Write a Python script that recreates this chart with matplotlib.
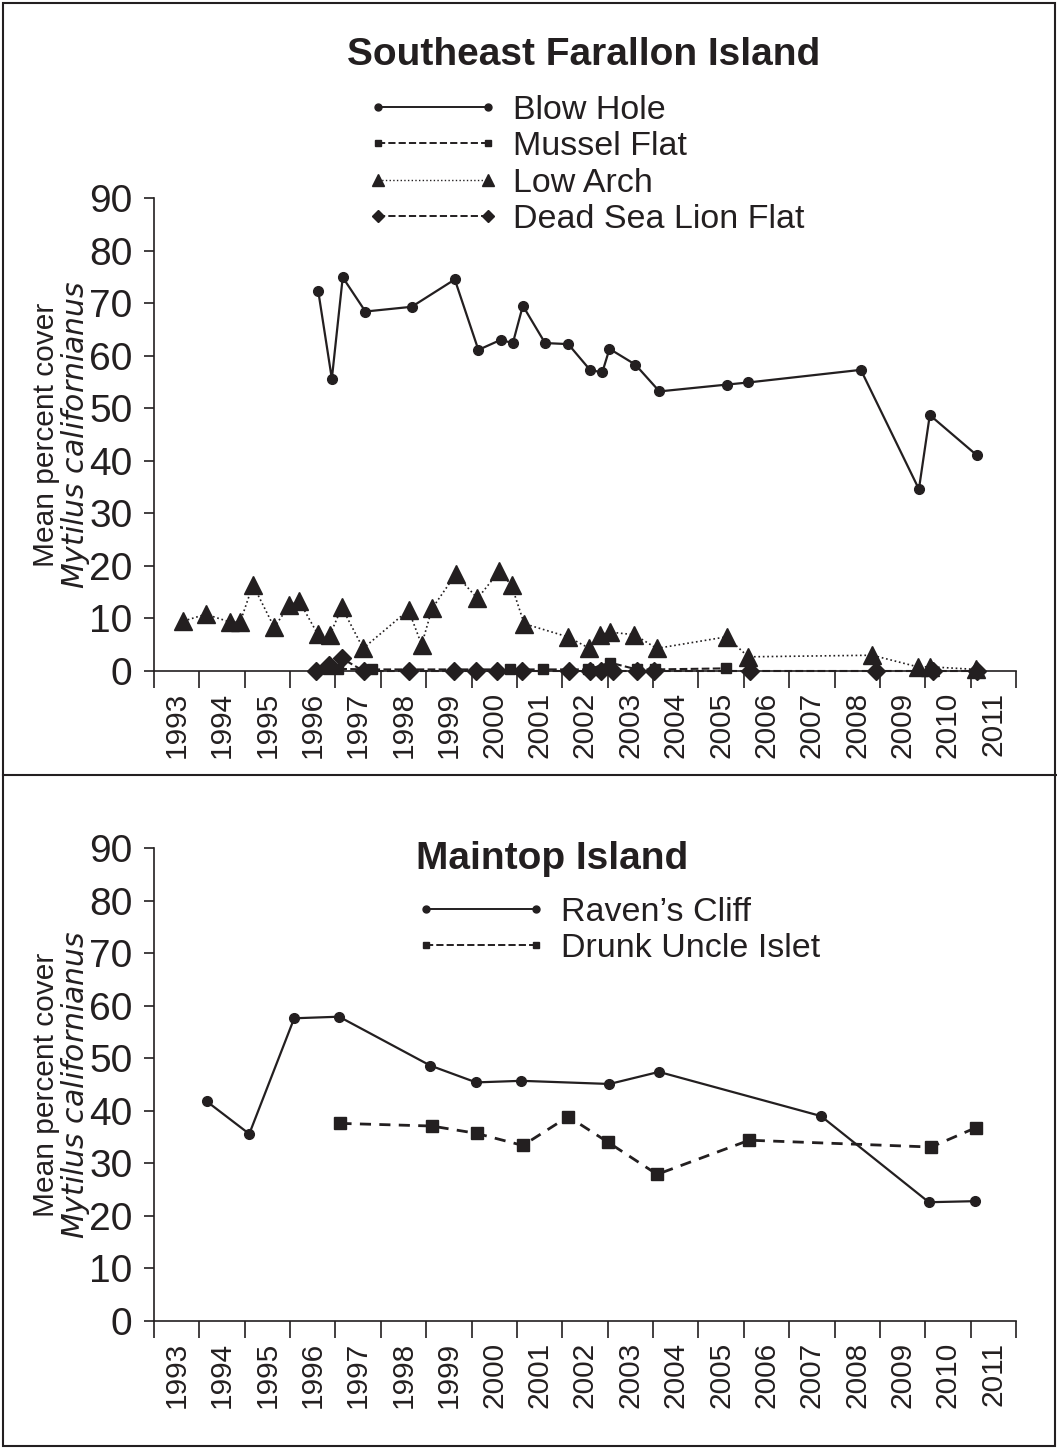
import matplotlib
matplotlib.use("Agg")
import matplotlib.pyplot as plt
from matplotlib.lines import Line2D
from matplotlib.patches import Rectangle
from matplotlib.ticker import MultipleLocator, FixedLocator, NullFormatter

plt.rcParams['font.family'] = ['Liberation Sans', 'DejaVu Sans']

INK = '#231f20'

# ---- Southeast Farallon Island ----
blow_x = [1996.62, 1996.92, 1997.16, 1997.66, 1998.68, 1999.63, 2000.15, 2000.64,
          2000.91, 2001.13, 2001.62, 2002.13, 2002.61, 2002.88, 2003.04, 2003.61,
          2004.14, 2005.63, 2006.10, 2008.58, 2009.86, 2010.10, 2011.13]
blow_y = [72.3, 55.6, 74.9, 68.4, 69.3, 74.5, 61.1, 63.0,
          62.4, 69.5, 62.4, 62.2, 57.3, 56.8, 61.3, 58.3,
          53.2, 54.5, 54.9, 57.3, 34.6, 48.7, 41.1]

mussel_x = [1996.84, 1997.06, 1997.80, 2000.85, 2001.57, 2002.57, 2003.05, 2003.64, 2004.05, 2005.60]
mussel_y = [0.3, 0.4, 0.3, 0.3, 0.3, 0.3, 1.6, 0.3, 0.3, 0.5]

arch_x = [1993.65, 1994.14, 1994.68, 1994.90, 1995.18, 1995.65, 1995.98, 1996.20,
          1996.61, 1996.88, 1997.14, 1997.61, 1998.61, 1998.90, 1999.13, 1999.65,
          2000.13, 2000.61, 2000.88, 2001.16, 2002.12, 2002.58, 2002.83, 2003.05,
          2003.59, 2004.08, 2005.62, 2006.10, 2008.83, 2009.83, 2010.10, 2011.12]
arch_y = [9.5, 10.8, 9.3, 9.3, 16.4, 8.3, 12.5, 13.3,
          7.0, 6.9, 12.1, 4.3, 11.6, 5.0, 11.9, 18.4,
          13.8, 19.0, 16.3, 9.0, 6.5, 4.4, 6.9, 7.4,
          6.9, 4.3, 6.5, 2.7, 3.0, 0.8, 0.8, 0.3]

dead_x = [1996.57, 1996.86, 1997.14, 1997.62, 1998.62, 1999.61, 2000.10, 2000.57,
          2001.12, 2002.14, 2002.60, 2002.85, 2003.12, 2003.65, 2004.02, 2006.14,
          2008.91, 2010.18, 2011.13]
dead_y = [0, 1.2, 2.4, 0, 0, 0, 0, 0,
          0, 0, 0, 0, 0, 0, 0, 0,
          0, 0, 0]

# ---- Maintop Island ----
raven_x = [1994.16, 1995.10, 1996.09, 1997.08, 1999.09, 2000.10, 2001.10,
           2003.04, 2004.13, 2007.70, 2010.08, 2011.09]
raven_y = [41.8, 35.6, 57.6, 57.9, 48.6, 45.4, 45.7,
           45.1, 47.4, 39.0, 22.6, 22.8]

drunk_x = [1997.11, 1999.12, 2000.11, 2001.13, 2002.13, 2003.01, 2004.09, 2006.12, 2010.13, 2011.12]
drunk_y = [37.6, 37.1, 35.7, 33.4, 38.9, 34.0, 27.9, 34.4, 33.1, 36.8]

years = list(range(1993, 2012))
y_ticks = list(range(0, 100, 10))

W, H = 1057, 1448
fig = plt.figure(figsize=(W / 100, H / 100), dpi=100)


def px_axes(left, top, right, bottom):
    return fig.add_axes([left / W, 1 - bottom / H, (right - left) / W, (bottom - top) / H])


def style_axes(ax):
    ax.set_xlim(1993, 2012)
    ax.set_ylim(0, 90)
    for s in ['top', 'right']:
        ax.spines[s].set_visible(False)
    for s in ['left', 'bottom']:
        ax.spines[s].set_color(INK)
        ax.spines[s].set_linewidth(1.2)
    ax.yaxis.set_major_locator(FixedLocator(y_ticks))
    ax.tick_params(axis='y', direction='out', length=7.5, width=1.2, colors=INK,
                   labelsize=28, pad=8)
    ax.xaxis.set_major_locator(MultipleLocator(1))
    ax.xaxis.set_major_formatter(NullFormatter())
    ax.xaxis.set_minor_locator(FixedLocator([y + 0.5 for y in years]))
    ax.set_xticklabels([str(y) for y in years], minor=True, rotation=90)
    ax.tick_params(axis='x', which='major', direction='out', length=12, width=1.2, colors=INK)
    ax.tick_params(axis='x', which='minor', length=0, labelsize=21.5, pad=15, colors=INK)
    ax.set_ylabel('Mean percent cover\n$\\mathit{Mytilus\\ californianus}$', fontsize=21.5,
                  color=INK, linespacing=0.95, labelpad=-2)
    ax.patch.set_visible(False)


# top panel
ax1 = px_axes(154, 198, 1016, 671)
style_axes(ax1)
ax1.plot(arch_x, arch_y, color=INK, ls=':', lw=1.2, marker='^', ms=13, clip_on=False, zorder=3)
ax1.plot(dead_x, dead_y, color=INK, ls='--', lw=1.5, marker='D', ms=9, clip_on=False, zorder=4)
ax1.plot(mussel_x, mussel_y, color=INK, ls='--', lw=1.5, marker='s', ms=7, clip_on=False, zorder=4)
ax1.plot(blow_x, blow_y, color=INK, ls='-', lw=1.6, marker='o', ms=7, clip_on=False, zorder=5)

fig.text(584 / W, 1 - 55 / H, 'Southeast Farallon Island', ha='center', va='center',
         fontsize=28, fontweight='bold', color=INK)

h1 = [Line2D([], [], color=INK, ls='-', lw=1.4, marker='o', ms=5),
      Line2D([], [], color=INK, ls='--', lw=1.4, marker='s', ms=5),
      Line2D([], [], color=INK, ls=':', lw=1.0, marker='^', ms=8),
      Line2D([], [], color=INK, ls='--', lw=1.4, marker='D', ms=6)]
fig.legend(h1, ['Blow Hole', 'Mussel Flat', 'Low Arch', 'Dead Sea Lion Flat'],
           loc='upper left', bbox_to_anchor=(337 / W, 1 - 64 / H), frameon=False,
           fontsize=24.5, numpoints=2, handlelength=3.85, handletextpad=0.42,
           labelspacing=0.16, labelcolor=INK)

# bottom panel
ax2 = px_axes(154, 848, 1016, 1321)
style_axes(ax2)
ax2.plot(drunk_x, drunk_y, color=INK, ls=(0, (4, 3)), lw=2, marker='s', ms=8, zorder=3)
ax2.plot(raven_x, raven_y, color=INK, ls='-', lw=1.6, marker='o', ms=7, zorder=4)

fig.text(552 / W, 1 - 859 / H, 'Maintop Island', ha='center', va='center',
         fontsize=28, fontweight='bold', color=INK)

h2 = [Line2D([], [], color=INK, ls='-', lw=1.4, marker='o', ms=5),
      Line2D([], [], color=INK, ls='--', lw=1.4, marker='s', ms=5)]
fig.legend(h2, ["Raven\u2019s Cliff", 'Drunk Uncle Islet'],
           loc='upper left', bbox_to_anchor=(385 / W, 1 - 866 / H), frameon=False,
           fontsize=24.5, numpoints=2, handlelength=3.85, handletextpad=0.42,
           labelspacing=0.16, labelcolor=INK)

# outer frame and divider
fig.patches.append(Rectangle((3 / W, 2 / H), 1 - 5 / W, 1 - 5 / H, transform=fig.transFigure,
                             fill=False, edgecolor=INK, lw=1.5))
fig.add_artist(Line2D([3 / W, 1], [1 - 775 / H, 1 - 775 / H], transform=fig.transFigure,
                      color=INK, lw=1.5))

fig.savefig('out.png', dpi=100)
